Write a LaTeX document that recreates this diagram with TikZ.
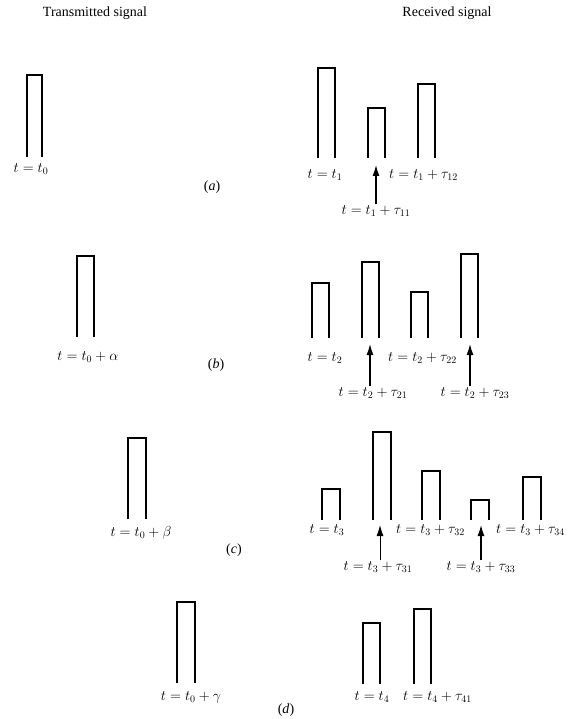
\documentclass[tikz,border=0pt]{standalone}
\usepackage{fontspec}
\setmainfont{Liberation Serif}
\usetikzlibrary{arrows.meta, positioning}

\tikzset{
  pulse/.style={line width=1.5pt, line join=miter},
  lbl/.style={inner sep=1pt, font=\fontsize{14}{16}\selectfont},
  arr/.style={line width=1.3pt, -{Latex[length=11pt,width=7pt]}},
}

\begin{document}
\begin{tikzpicture}[x=1pt,y=-1pt]
  \useasboundingbox (0,0) rectangle (578,719);
  % headings
  \node[lbl] (hT) at (95,13) {Transmitted signal};
  \node[lbl] (hR) at (447,13) {Received signal};

  % (a) one pulse out, three back
  \draw[pulse] (27,157) |- (42,75) -- (42,157);
  \foreach \x/\t in {318/68, 368/108, 418/84}
    \draw[pulse] (\x,158) |- (\x+17,\t) -- (\x+17,158);
  \node[lbl] (a0) at (31,169) {$t=t_0$};
  \node[lbl] (acap) at (212,187) {(\textit{a})};
  \node[lbl] (a1) at (325,175) {$t=t_1$};
  \node[lbl, anchor=west] (a3) at (388,175) {$t=t_1+\tau_{12}$};
  \node[lbl] (a2) at (376,211) {$t=t_1+\tau_{11}$};
  \coordinate (a2tip) at (376,165);
  \draw[arr] (a2.north -| a2tip) -- (a2tip);

  % (b)
  \draw[pulse] (77,337) |- (94,256) -- (94,337);
  \foreach \x/\t in {312/283, 362/262, 411/292, 461/254}
    \draw[pulse] (\x,338) |- (\x+17,\t) -- (\x+17,338);
  \node[lbl] (b0) at (88,357) {$t=t_0+\alpha$};
  \node[lbl] (bcap) at (216,365) {(\textit{b})};
  \node[lbl] (b1) at (325,358) {$t=t_2$};
  \node[lbl, anchor=west] (b3) at (387,358) {$t=t_2+\tau_{22}$};
  \node[lbl] (b2) at (373,393) {$t=t_2+\tau_{21}$};
  \node[lbl] (b4) at (475,393) {$t=t_2+\tau_{23}$};
  \coordinate (b2tip) at (370,344);
  \coordinate (b4tip) at (470,344);
  \draw[arr] (b2.north -| b2tip) -- (b2tip);
  \draw[arr] (b4.north -| b4tip) -- (b4tip);

  % (c)
  \draw[pulse] (128,519) |- (146,438) -- (146,519);
  \foreach \x/\t in {322/489, 373/432, 422/471, 471/500, 523/477}
    \draw[pulse] (\x,520) |- (\x+18,\t) -- (\x+18,520);
  \node[lbl] (c0) at (141,533) {$t=t_0+\beta$};
  \node[lbl] (ccap) at (234,550) {(\textit{c})};
  \node[lbl] (c1) at (327,530) {$t=t_3$};
  \node[lbl, anchor=west] (c3) at (395,530) {$t=t_3+\tau_{32}$};
  \node[lbl, anchor=west] (c5) at (495,530) {$t=t_3+\tau_{34}$};
  \node[lbl] (c2) at (378,567) {$t=t_3+\tau_{31}$};
  \node[lbl] (c4) at (481,567) {$t=t_3+\tau_{33}$};
  \coordinate (c2tip) at (380,525);
  \coordinate (c4tip) at (481,525);
  \draw[arr, line width=0.8pt] (c2.north -| c2tip) -- (c2tip);
  \draw[arr] (c4.north -| c4tip) -- (c4tip);

  % (d)
  \draw[pulse] (177,683) |- (195,602) -- (195,683);
  \foreach \x/\t in {363/623, 414/609}
    \draw[pulse] (\x,684) |- (\x+17,\t) -- (\x+17,684);
  \node[lbl] (d0) at (191,697) {$t=t_0+\gamma$};
  \node[lbl] (dcap) at (286,710) {(\textit{d})};
  \node[lbl] (d1) at (372,697) {$t=t_4$};
  \node[lbl, anchor=west] (d2) at (402,697) {$t=t_4+\tau_{41}$};
\end{tikzpicture}
\end{document}
